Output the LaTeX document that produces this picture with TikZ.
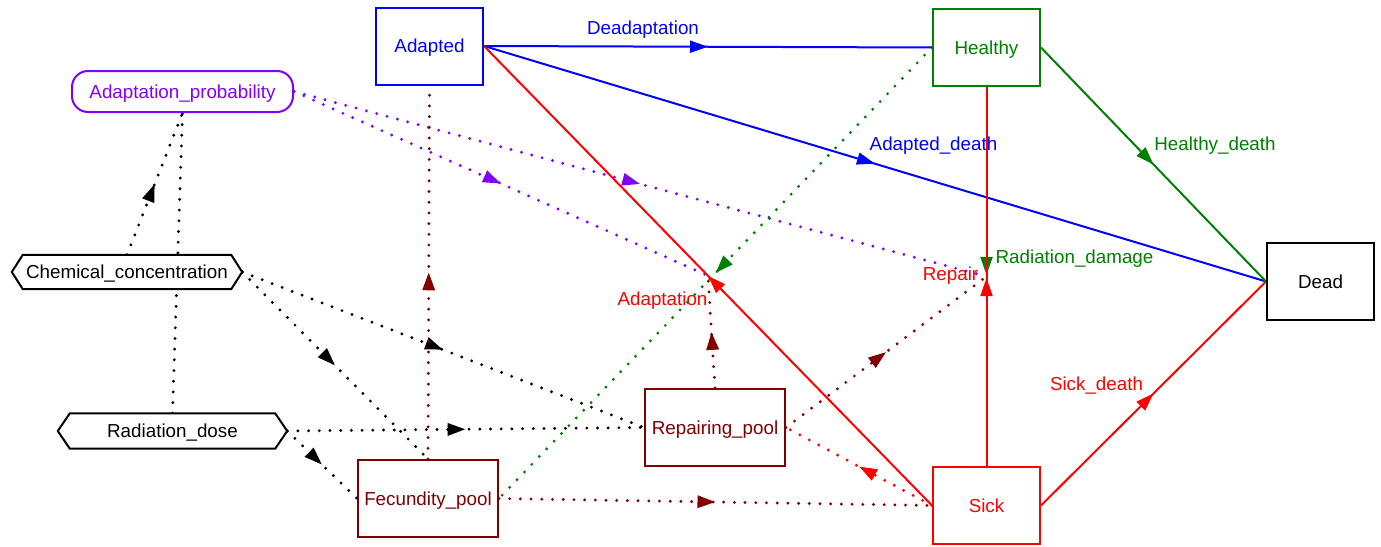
\documentclass[tikz,border=0pt]{standalone}
\usepackage{fontspec}
\setmainfont{Liberation Sans}
\usetikzlibrary{arrows.meta,decorations.markings,calc}
\definecolor{cBlue}{HTML}{0000FF}
\definecolor{cGreen}{HTML}{008000}
\definecolor{cRed}{HTML}{FF0000}
\definecolor{cDark}{HTML}{800000}
\definecolor{cPurp}{HTML}{8000FF}
\pgfdeclarelayer{lines}
\pgfdeclarelayer{shapes}
\pgfsetlayers{lines,shapes,main}
\tikzset{
  txt/.style={font=\fontsize{18.8pt}{22pt}\selectfont},
  box/.style={txt, draw, line width=2pt, fill=white, minimum width=107pt, minimum height=77pt, inner sep=0pt, text height=14pt, text depth=1pt},
  pool/.style={box, minimum width=140pt, draw=cDark, text=cDark},
  hexnode/.style={txt, inner sep=0pt, minimum height=34pt, text height=14pt, text depth=1pt},
  hexline/.style={draw=black, line width=2pt, fill=white, line join=miter},
  lbl/.style={txt, anchor=base, inner sep=0pt},
  flow/.style={line width=2pt},
  dotc/.style={line width=3.2pt, line cap=round, dash pattern=on 0pt off 10.7pt},
  midarrow/.style={postaction={decorate, decoration={markings, mark=at position #1 with {\arrow{>}}}}},
  midarrow/.default=0.5,
  >={Triangle[length=18pt,width=12pt]},
}
\begin{document}
\begin{tikzpicture}[x=1pt,y=-1pt]
\useasboundingbox (0,0) rectangle (1381,546);
% stocks and variables
\node[box, draw=cBlue, text=cBlue] (adapted) at (429.5,46) {Adapted};
\node[box, draw=cGreen, text=cGreen] (healthy) at (986.5,47.5) {Healthy};
\node[box] (dead) at (1320.5,281.5) {Dead};
\node[box, draw=cRed, text=cRed] (sick) at (986.5,505.5) {Sick};
\node[pool] (fec) at (428,498.5) {Fecundity\_pool};
\node[pool] (rep) at (715,427.5) {Repairing\_pool};
\node[txt, draw=cPurp, text=cPurp, line width=2pt, rounded corners=16pt, fill=white, minimum width=221pt, minimum height=41pt, inner sep=0pt, text height=14pt, text depth=1pt] (ap) at (182.5,91.5) {Adaptation\_probability};
\node[hexnode, minimum width=230pt] (cc) at (127,272) {Chemical\_concentration};
\node[hexnode, minimum width=229pt, minimum height=35pt] (rd) at (172.5,431) {Radiation\_dose};
% valves
\coordinate (vA) at ($(sick.west)!0.5!(adapted.east)$);
\coordinate (vR) at ($(healthy.south)!0.5!(sick.north)$);
\begin{pgfonlayer}{shapes}
\draw[hexline] (cc.west) -- ([xshift=11pt]cc.north west) -- ([xshift=-11pt]cc.north east) -- (cc.east) -- ([xshift=-11pt]cc.south east) -- ([xshift=11pt]cc.south west) -- cycle;
\draw[hexline] (rd.west) -- ([xshift=12pt]rd.north west) -- ([xshift=-12pt]rd.north east) -- (rd.east) -- ([xshift=-12pt]rd.south east) -- ([xshift=12pt]rd.south west) -- cycle;
\end{pgfonlayer}
\begin{pgfonlayer}{lines}
% flow labels
\node[lbl, text=cBlue] (lDeadapt) at (643,34) {Deadaptation};
\node[lbl, text=cBlue] (lAdDeath) at (933.5,150) {Adapted\_death};
\node[lbl, text=cGreen] (lHeDeath) at (1215,150) {Healthy\_death};
\node[lbl, text=cGreen] (lRadDam) at (1074.5,263) {Radiation\_damage};
\node[lbl, text=cRed] (lRepair) at (950.5,280) {Repair};
\node[lbl, text=cRed] (lAdapt) at (662.5,305) {Adaptation};
\node[lbl, text=cRed] (lSiDeath) at (1096.5,390) {Sick\_death};
% influence connectors
\draw[dotc, cPurp, midarrow] (ap.east) -- (vA);
\draw[dotc, cPurp, midarrow] (ap.east) -- (vR);
\draw[dotc, black, midarrow] (cc.north) -- (ap.south);
\draw[dotc, black, midarrow] (rd.north) -- (ap.south);
\draw[dotc, black, midarrow] (cc.east) -- (rep.west);
\draw[dotc, black, midarrow] (cc.east) -- (fec.north);
\draw[dotc, black, midarrow] (rd.east) -- (rep.west);
\draw[dotc, black, midarrow] (rd.east) -- (fec.west);
\draw[dotc, cDark, midarrow] (fec.north) -- (adapted.south);
\draw[dotc, cDark, midarrow] (fec.east) -- (sick.west);
\draw[dotc, cGreen, midarrow] (healthy.west) -- (fec.east);
\draw[dotc, cDark, midarrow] (rep.north) -- (vA);
\draw[dotc, cDark, midarrow] (rep.east) -- (vR);
\draw[dotc, cRed, midarrow] (sick.west) -- (rep.east);
% flows
\draw[flow, cBlue, midarrow] (adapted.east) -- (healthy.west);
\draw[flow, cBlue, midarrow] (adapted.east) -- (dead.west);
\draw[flow, cGreen, midarrow] (healthy.east) -- (dead.west);
\draw[flow, cRed, midarrow] (sick.east) -- (dead.west);
\draw[flow, cGreen, midarrow=0.496] (healthy.south) -- (sick.north);
\draw[flow, cRed, midarrow=0.496] (sick.north) -- (healthy.south);
\draw[flow, cRed, midarrow] (sick.west) -- (adapted.east);
\end{pgfonlayer}
\end{tikzpicture}
\end{document}
